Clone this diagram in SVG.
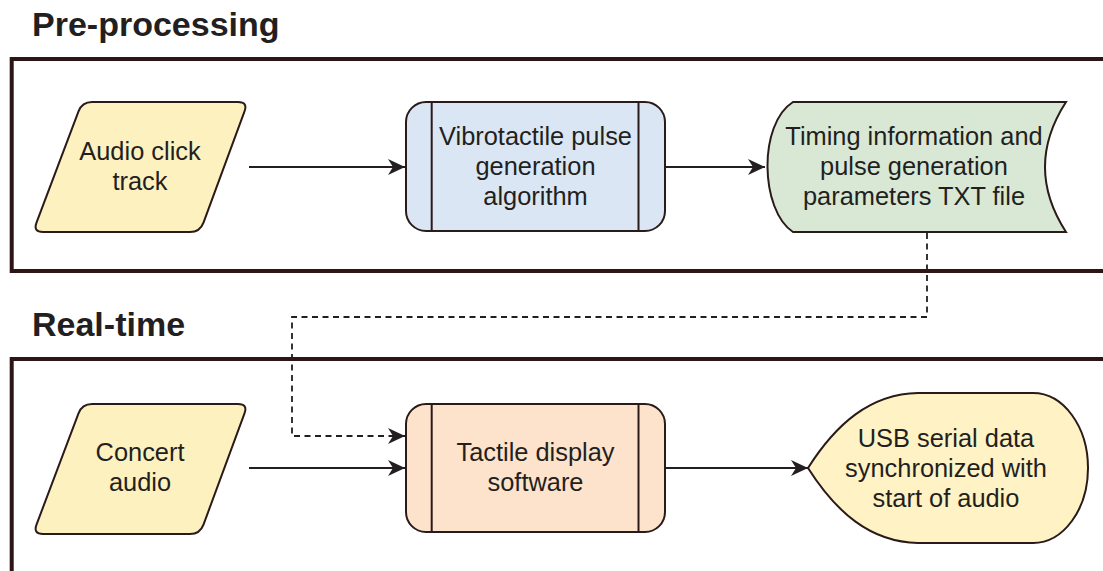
<svg xmlns="http://www.w3.org/2000/svg" width="1103" height="571" viewBox="0 0 1103 571">
<style>
.t{font-family:"Liberation Sans",Arial,Helvetica,sans-serif;font-size:25.4px;fill:#231f20;text-anchor:middle}
.title{font-family:"Liberation Sans",Arial,Helvetica,sans-serif;font-size:34px;font-weight:bold;fill:#231f20}
.frame{fill:none;stroke:#2e1414;stroke-width:4}
.node{stroke:#2b1a1a;stroke-width:2}
.edge{fill:none;stroke:#231f20;stroke-width:1.8}
.dash{stroke-dasharray:6 4.5}
</style>
<defs>
<marker id="arr" markerUnits="userSpaceOnUse" markerWidth="18" markerHeight="16" refX="17" refY="8" orient="auto">
<path d="M0,0 L17,8 L0,16 L5,8 Z" fill="#231f20"/>
</marker>
</defs>
<rect width="1103" height="571" fill="#ffffff"/>
<g id="frames">
<text class="title" x="32" y="36">Pre-processing</text>
<rect class="frame" x="11.7" y="59" width="1110" height="212"/>
<text class="title" x="32" y="336">Real-time</text>
<rect class="frame" x="11.7" y="359" width="1110" height="240"/>
</g>
<g id="connectors">
<line class="edge" x1="249" y1="167" x2="405" y2="167" marker-end="url(#arr)"/>
<line class="edge" x1="665" y1="167" x2="765" y2="167" marker-end="url(#arr)"/>
<path class="edge dash" d="M927,233 V317 H292 V436 H405" marker-end="url(#arr)"/>
<line class="edge" x1="249" y1="468" x2="405" y2="468" marker-end="url(#arr)"/>
<line class="edge" x1="665" y1="468" x2="808" y2="468" marker-end="url(#arr)"/>
</g>
<g id="audio-click-track">
<path class="node" fill="#fdf1c0" d="M92,102 L238,102 Q248,102 244.5,111.4 L203.5,222.6 Q200,232 190,232 L43,232 Q33,232 36.5,222.6 L78.5,111.4 Q82,102 92,102 Z"/>
<text class="t" x="140" y="160">Audio click</text>
<text class="t" x="140" y="190">track</text>
</g>
<g id="pulse-algorithm">
<rect class="node" fill="#dae6f4" x="406" y="102" width="259" height="129" rx="20" ry="20"/>
<line class="node" x1="431.7" y1="102" x2="431.7" y2="231"/>
<line class="node" x1="638.5" y1="102" x2="638.5" y2="231"/>
<text class="t" x="535.5" y="145">Vibrotactile pulse</text>
<text class="t" x="535.5" y="175">generation</text>
<text class="t" x="535.5" y="205">algorithm</text>
</g>
<g id="txt-file">
<path class="node" fill="#d8e8d5" d="M793,102 L1066,102 Q1024,167 1066,232 L793,232 C760,210 758,124 793,102 Z"/>
<text class="t" x="914" y="145">Timing information and</text>
<text class="t" x="914" y="175">pulse generation</text>
<text class="t" x="914" y="205">parameters TXT file</text>
</g>
<g id="concert-audio">
<path class="node" fill="#fdf1c0" d="M92,404 L238,404 Q248,404 244.5,413.4 L203.5,524.6 Q200,534 190,534 L43,534 Q33,534 36.5,524.6 L78.5,413.4 Q82,404 92,404 Z"/>
<text class="t" x="140" y="461">Concert</text>
<text class="t" x="140" y="491">audio</text>
</g>
<g id="tactile-software">
<rect class="node" fill="#fde3cb" x="406" y="404" width="259" height="128" rx="20" ry="20"/>
<line class="node" x1="431.7" y1="404" x2="431.7" y2="532"/>
<line class="node" x1="638.5" y1="404" x2="638.5" y2="532"/>
<text class="t" x="535.5" y="461">Tactile display</text>
<text class="t" x="535.5" y="491">software</text>
</g>
<g id="usb-serial">
<path class="node" fill="#fff2c4" d="M808,468 C836,424 870,394 918,393 L1033,393 A55,75 0 0 1 1033,543 L918,543 C870,542 836,512 808,468 Z"/>
<text class="t" x="946" y="447">USB serial data</text>
<text class="t" x="946" y="477">synchronized with</text>
<text class="t" x="946" y="507">start of audio</text>
</g>
</svg>
